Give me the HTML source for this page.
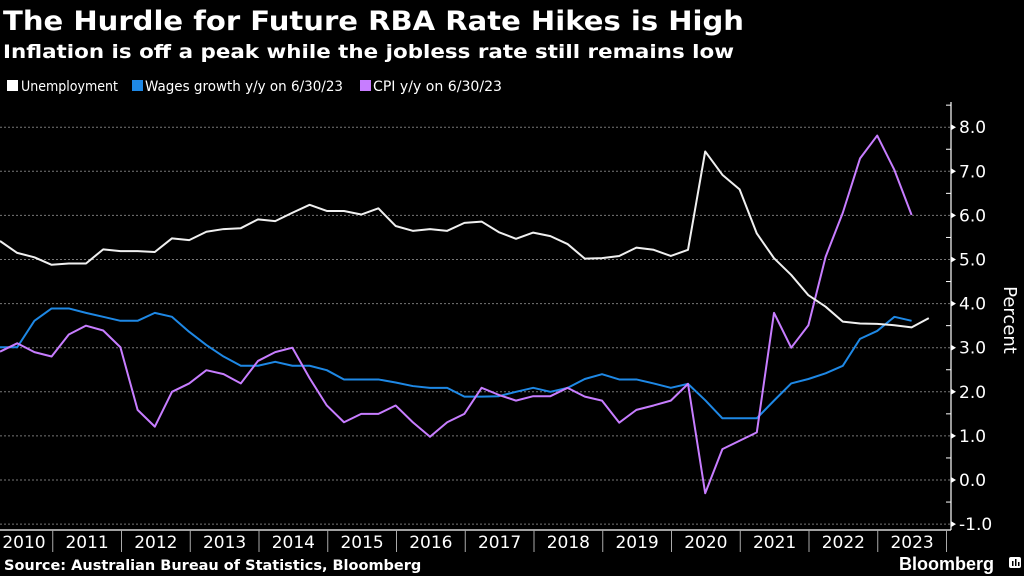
<!DOCTYPE html>
<html><head><meta charset="utf-8"><style>
body{margin:0;background:#000;width:1024px;height:576px;overflow:hidden;font-family:"DejaVu Sans","Liberation Sans",sans-serif;color:#fff}
svg{position:absolute;left:0;top:0}
</style></head><body>
<svg id="c" width="1024" height="576">
<text x="3" y="30" font-family="DejaVu Sans, sans-serif" font-weight="bold" font-size="27" textLength="741" lengthAdjust="spacingAndGlyphs" fill="#fff">The Hurdle for Future RBA Rate Hikes is High</text>
<text x="3" y="58" font-family="DejaVu Sans, sans-serif" font-weight="bold" font-size="19" textLength="731" lengthAdjust="spacingAndGlyphs" fill="#fff">Inflation is off a peak while the jobless rate still remains low</text>
<g font-size="14" fill="#fff">
<rect x="7" y="80" width="11" height="11" fill="#fff"/>
<text x="21" y="91" textLength="97" lengthAdjust="spacingAndGlyphs">Unemployment</text>
<rect x="132" y="80" width="11" height="11" fill="#1e88e5"/>
<text x="145" y="91" textLength="198" lengthAdjust="spacingAndGlyphs">Wages growth y/y on 6/30/23</text>
<rect x="360" y="80" width="11" height="11" fill="#c77dff"/>
<text x="373" y="91" textLength="129" lengthAdjust="spacingAndGlyphs">CPI y/y on 6/30/23</text>
</g>
<g id="grid"></g><g id="axes"></g><g id="series"></g>
<text x="1004" y="320" font-size="18" fill="#fff" text-anchor="middle" transform="rotate(90 1004 320)">Percent</text>
<text x="4" y="570" font-size="14.5" font-weight="bold" fill="#fff">Source: Australian Bureau of Statistics, Bloomberg</text>
<text x="994" y="570" font-family="Liberation Sans, sans-serif" font-weight="bold" font-size="18" fill="#fff" text-anchor="end">Bloomberg</text>
<g><rect x="1009" y="557" width="12" height="11" rx="2" fill="#fff"/><rect x="1012" y="561" width="1.5" height="5" fill="#000"/><rect x="1015" y="559" width="1.5" height="7" fill="#000"/><rect x="1018" y="562" width="1.5" height="4" fill="#000"/></g>
</svg>
<script>
const years=["2010","2011","2012","2013","2014","2015","2016","2017","2018","2019","2020","2021","2022","2023"];
const yTicks=[8,7,6,5,4,3,2,1,0,-1];
const unemployment=[5.42,5.15,5.05,4.88,4.91,4.91,5.23,5.19,5.19,5.17,5.48,5.44,5.63,5.69,5.71,5.91,5.87,6.06,6.24,6.10,6.10,6.02,6.16,5.76,5.65,5.69,5.65,5.83,5.86,5.62,5.47,5.61,5.53,5.35,5.02,5.03,5.08,5.27,5.22,5.08,5.22,7.45,6.92,6.59,5.59,5.03,4.65,4.19,3.93,3.59,3.55,3.54,3.51,3.46,3.67];
const wages=[3.01,3.01,3.61,3.89,3.89,3.79,3.70,3.61,3.61,3.79,3.70,3.36,3.06,2.80,2.59,2.59,2.68,2.59,2.59,2.49,2.28,2.28,2.28,2.21,2.13,2.09,2.09,1.89,1.89,1.90,2.00,2.09,2.00,2.09,2.29,2.40,2.28,2.28,2.19,2.09,2.18,1.81,1.40,1.40,1.40,1.80,2.19,2.29,2.42,2.59,3.20,3.38,3.70,3.61];
const cpi=[2.91,3.10,2.90,2.80,3.30,3.50,3.39,3.01,1.59,1.21,2.00,2.19,2.49,2.40,2.19,2.70,2.90,3.00,2.31,1.69,1.31,1.50,1.50,1.69,1.31,0.98,1.31,1.50,2.09,1.93,1.80,1.90,1.90,2.09,1.89,1.80,1.30,1.59,1.69,1.80,2.18,-0.30,0.70,0.89,1.08,3.79,3.00,3.51,5.06,6.06,7.29,7.81,7.03,6.01];
const NS="http://www.w3.org/2000/svg";
const X=i=>i*17.2;
const Y=v=>480-v*44.1;
const yearX=k=>-16+k*68.75;
function mk(t,a,p){const e=document.createElementNS(NS,t);for(const k in a)e.setAttribute(k,a[k]);p.appendChild(e);return e;}
const grid=document.getElementById('grid'),axes=document.getElementById('axes'),ser=document.getElementById('series');
yTicks.forEach(v=>{
 const l=mk('line',{x1:0,x2:950,y1:Y(v),y2:Y(v),stroke:'#777','stroke-width':1,'stroke-dasharray':'2,2'},grid);
 
 
 mk('path',{d:`M951 ${Y(v)-3} L956 ${Y(v)} L951 ${Y(v)+3}Z`,fill:'#fff'},axes);
 const t=mk('text',{x:959,y:Y(v)+6,'font-size':17,fill:'#fff'},axes);
 t.textContent=v.toFixed(1);
 
 
});
for(let v=8.5;v>-1;v-=1){mk('line',{x1:946,x2:951,y1:Y(v),y2:Y(v),stroke:'#fff','stroke-width':1},axes);}
mk('line',{x1:951,x2:951,y1:102,y2:530,stroke:'#fff','stroke-width':1.2},axes);
mk('line',{x1:0,x2:951,y1:530,y2:530,stroke:'#fff','stroke-width':1.2},axes);
years.forEach((y,k)=>{
 const x0=yearX(k),x1=yearX(k+1);
 mk('line',{x1:x1,x2:x1,y1:530,y2:552,stroke:'#aaa','stroke-width':1},axes);
 const t=mk('text',{x:Math.max((x0+x1)/2,24),y:548,'font-size':17,fill:'#fff','text-anchor':'middle'},axes);
 t.textContent=y;
 
 
});
function line(arr,color,name){
 const p=mk('polyline',{points:arr.map((v,i)=>X(i)+','+Y(v)).join(' '),fill:'none',stroke:color,'stroke-width':2,'stroke-linejoin':'round'},ser);
 
 
}
line(wages,'#1e88e5','wages-line');
line(cpi,'#c77dff','cpi-line');
line(unemployment,'#f0f0f0','unemployment-line');
</script>
</body></html>
